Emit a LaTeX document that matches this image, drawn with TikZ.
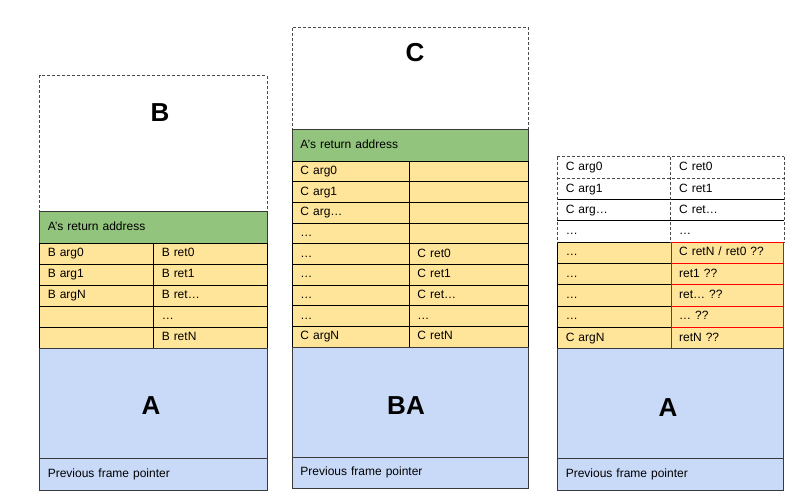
\documentclass[tikz,border=0pt]{standalone}
\usepackage{fontspec}
\setmainfont{Liberation Sans}
\definecolor{grn}{HTML}{93C47D}
\definecolor{ylw}{HTML}{FFE599}
\definecolor{blu}{HTML}{C9DAF8}
\definecolor{edgec}{HTML}{3A3A3A}
\definecolor{dashc}{HTML}{4A4A4A}
\tikzset{
  cellbase/.style={draw=black, line width=0.9pt, inner xsep=8pt, inner ysep=0pt,
    font=\fontsize{12}{14}\selectfont, align=left, text height=8.6pt, text depth=2.6pt},
  ycell/.style={fill=ylw},
  gcell/.style={fill=grn, draw=edgec},
  bcell/.style={fill=blu, draw=edgec},
  wcell/.style={draw=none},
  rcell/.style={fill=ylw, draw=red},
  framebox/.style={draw=dashc, dash pattern=on 3pt off 2pt, line width=0.9pt, inner sep=0pt, anchor=north west},
  dline/.style={draw=dashc, dash pattern=on 3pt off 2pt, line width=0.9pt},
  sline/.style={draw=black, line width=0.9pt},
  biglabel/.style={font=\fontsize{26}{30}\selectfont\bfseries},
}
\newcommand\cellbox[7]{%
  \pgfmathsetmacro\cbtw{#4-16}%
  \node[cellbase,#6,anchor=north west,minimum height=#5pt,text width=\cbtw pt] (#1) at (#2pt,-#3pt) {#7};}
\begin{document}
\begin{tikzpicture}
\useasboundingbox (0,0) rectangle (800pt,-493pt);
\fill[white] (0,0) rectangle (800pt,-493pt);

% ---------------- Left column (B) ----------------
\node[framebox, minimum width=227.2pt, minimum height=136pt] (Bframe) at (39.3pt,-75pt) {};
\node[biglabel] (Blbl) at (160pt,-113pt) {B};
\cellbox{Lret}{39.3}{211}{227.2}{31.5}{gcell}{A's return address}
\cellbox{La0}{39.3}{242.5}{114}{21.5}{ycell}{B arg0}
\cellbox{La1}{39.3}{264}{114}{21}{ycell}{B arg1}
\cellbox{La2}{39.3}{285}{114}{20.5}{ycell}{B argN}
\cellbox{La3}{39.3}{305.5}{114}{21}{ycell}{}
\cellbox{La4}{39.3}{326.5}{114}{21}{ycell}{}
\cellbox{Lr0}{153.3}{242.5}{113.2}{21.5}{ycell}{B ret0}
\cellbox{Lr1}{153.3}{264}{113.2}{21}{ycell}{B ret1}
\cellbox{Lr2}{153.3}{285}{113.2}{20.5}{ycell}{B ret…}
\cellbox{Lr3}{153.3}{305.5}{113.2}{21}{ycell}{…}
\cellbox{Lr4}{153.3}{326.5}{113.2}{21}{ycell}{B retN}
\cellbox{LA}{39.3}{347.5}{227.2}{110}{bcell}{}
\node[biglabel] (LAlbl) at (151pt,-406pt) {A};
\cellbox{LP}{39.3}{457.5}{227.2}{32.5}{bcell}{Previous frame pointer}

% ---------------- Middle column (C over BA) ----------------
\node[framebox, minimum width=235.5pt, minimum height=102.5pt] (Cframe) at (292pt,-26.5pt) {};
\node[biglabel] (Clbl) at (415pt,-53pt) {C};
\cellbox{Mret}{292}{129}{235.5}{31.7}{gcell}{A's return address}
\foreach \t [count=\i from 0] in {C arg0,C arg1,C arg…,…,…,…,…,…,C argN}{
  \pgfmathsetmacro\yy{160.7+\i*20.67}
  \cellbox{Ma\i}{292}{\yy}{117}{20.67}{ycell}{\t}
}
\foreach \t [count=\i from 0] in {{},{},{},{},C ret0,C ret1,C ret…,…,C retN}{
  \pgfmathsetmacro\yy{160.7+\i*20.67}
  \cellbox{Mr\i}{409}{\yy}{118.5}{20.67}{ycell}{\t}
}
\cellbox{MA}{292}{346.7}{235.5}{110.3}{bcell}{}
\node[biglabel] (MAlbl) at (406pt,-406pt) {BA};
\cellbox{MP}{292}{457}{235.5}{31}{bcell}{Previous frame pointer}

% ---------------- Right column (A) ----------------
\foreach \t [count=\i from 0] in {C arg0,C arg1,C arg…,…,…,…,…,…,C argN}{
  \pgfmathsetmacro\yy{156.7+\i*21.29}
  \ifnum\i<4 \tikzset{curcell/.style={wcell}}\else\tikzset{curcell/.style={ycell}}\fi
  \cellbox{Ra\i}{557.3}{\yy}{113.4}{21.29}{curcell}{\t}
}
\foreach \t [count=\i from 0] in {C ret0,C ret1,C ret…,…,C retN / ret0 ??,ret1 ??,ret… ??,… ??,retN ??}{
  \pgfmathsetmacro\yy{156.7+\i*21.29}
  \ifnum\i<4 \tikzset{curcell/.style={wcell}}\else\tikzset{curcell/.style={rcell}}\fi
  \cellbox{Rr\i}{670.7}{\yy}{112.6}{21.29}{curcell}{\t}
}
\draw[dline] (Ra0.north west) -- (Rr0.north east);
\draw[dline] (Ra1.north west) -- (Rr1.north east);
\draw[sline] (Ra2.north west) -- (Rr2.north east);
\draw[sline] (Ra3.north west) -- (Rr3.north east);
\draw[dline] (Ra0.north west) -- (Ra3.south west);
\draw[dline] (Rr0.north west) -- (Rr3.south west);
\draw[dline] (Rr0.north east) -- (Rr3.south east);
\cellbox{RA}{557.3}{348.3}{226}{109.4}{bcell}{}
\node[biglabel] (RAlbl) at (668pt,-408pt) {A};
\cellbox{RP}{557.3}{457.7}{226}{31.8}{bcell}{Previous frame pointer}
\end{tikzpicture}
\end{document}
